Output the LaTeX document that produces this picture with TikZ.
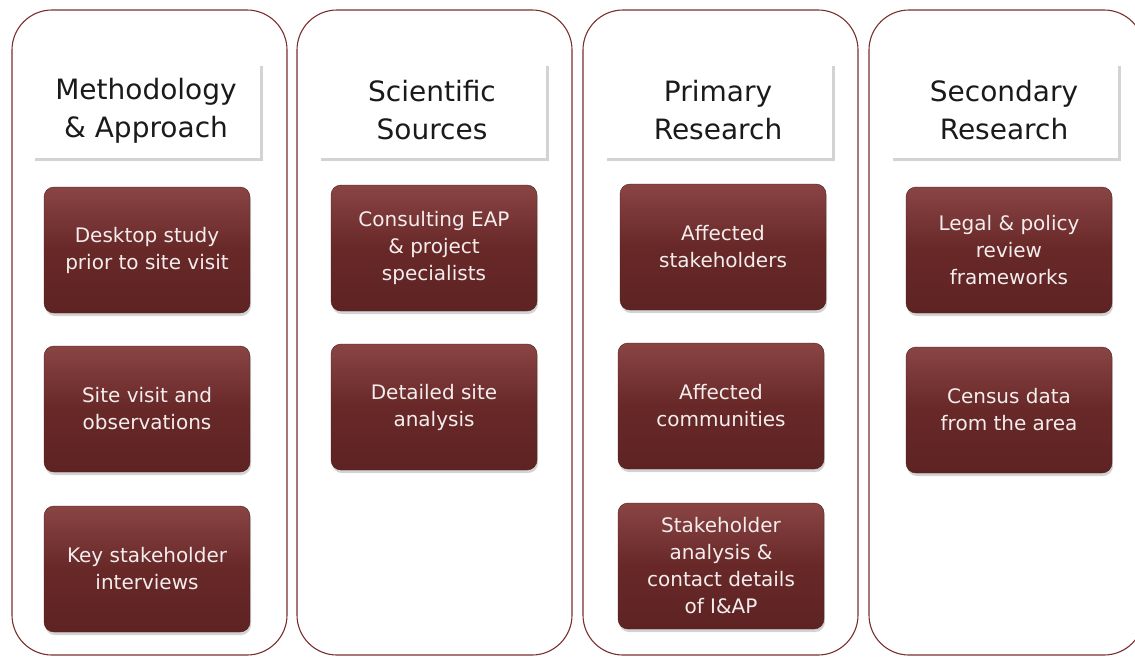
\documentclass[tikz,border=0pt]{standalone}
\usepackage{fontspec}
\setmainfont{DejaVu Sans}
\usepackage{tikz}
\usetikzlibrary{shadows}
\definecolor{panelred}{HTML}{7B2E2E}
\definecolor{boxtop}{HTML}{8A4444}
\definecolor{boxmid}{HTML}{682828}
\definecolor{boxbot}{HTML}{5E2323}
\definecolor{headtext}{HTML}{1A1A1A}
\definecolor{boxtext}{HTML}{F4EDED}

\begin{document}
\begin{tikzpicture}[x=1pt,y=-1pt]

\tikzstyle{panel}=[draw=panelred, line width=1.1pt, rounded corners=40pt]
\tikzstyle{head}=[fill=white, minimum width=228pt, minimum height=95pt,
                  align=center, text=headtext,
                  font=\fontsize{28}{38}\selectfont,
                  drop shadow={shadow xshift=3pt, shadow yshift=-3pt, opacity=0.35, fill=gray}]
\tikzstyle{task}=[rounded corners=10pt, top color=boxtop, bottom color=boxbot,
                  middle color=boxmid, draw=boxbot!80!black, line width=0.4pt,
                  minimum width=206pt, minimum height=126pt,
                  align=center, text=boxtext,
                  font=\fontsize{20}{27}\selectfont,
                  drop shadow={shadow xshift=1pt, shadow yshift=-3pt, opacity=0.35}]

\useasboundingbox (0,0) rectangle (1135,657);
\clip (0,0) rectangle (1135,657);

%columns
\foreach \x in {12,297,583,869}{ \draw[panel] (\x,10) rectangle ++(275,645);}

%headers
\node[head] (h1) at (146,110) {\rule{0pt}{22pt}Methodology\\\& Approach};
\node[head] (h2) at (432,110) {Scientific\\Sources};
\node[head] (h3) at (718,110) {Primary\\Research};
\node[head] (h4) at (1004,110) {Secondary\\Research};

%methodology
\node[task] (m1) at (147,250) {Desktop study\\prior to site visit};
\node[task] (m2) at (147,409) {Site visit and\\observations};
\node[task] (m3) at (147,569) {Key stakeholder\\interviews};
%scientific
\node[task] (s1) at (434,248) {Consulting EAP\\\& project\\specialists};
\node[task] (s2) at (434,407) {Detailed site\\analysis};
%primary
\node[task] (p1) at (723,247) {Affected\\stakeholders};
\node[task] (p2) at (721,406) {Affected\\communities};
\node[task] (p3) at (721,566) {Stakeholder\\analysis \&\\contact details\\of I\&AP};
%secondary
\node[task] (r1) at (1009,250) {Legal \& policy\\review\\frameworks};
\node[task] (r2) at (1009,410) {Census data\\from the area};

\end{tikzpicture}
\end{document}
